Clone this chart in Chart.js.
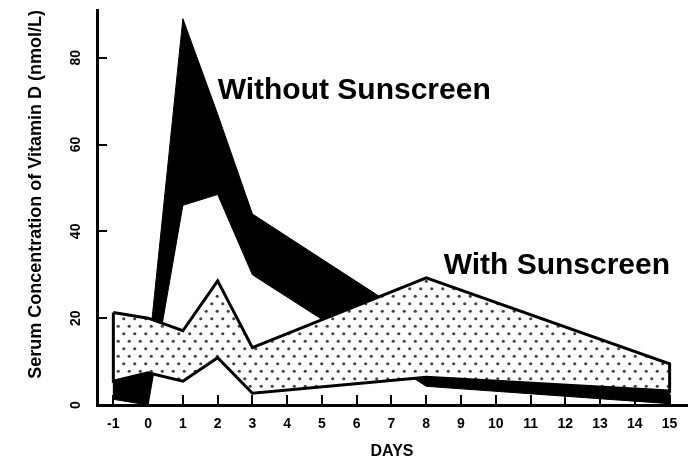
<!DOCTYPE html>
<html>
<head>
<meta charset="utf-8">
<script src="https://cdn.jsdelivr.net/npm/chart.js@4.4.1/dist/chart.umd.min.js"></script>
<style>
  html, body { margin: 0; padding: 0; background: #fff; }
  #wrap { width: 692px; height: 462px; }
</style>
</head>
<body>
<div id="wrap"><canvas id="chart" width="692" height="462"></canvas></div>
<script>
// Days on which the band edges change direction
const days = [-1, 0, 1, 2, 3, 8, 15];
// Tick labels for both axes
const dayTicks = [-1, 0, 1, 2, 3, 4, 5, 6, 7, 8, 9, 10, 11, 12, 13, 14, 15];
const concTicks = [0, 20, 40, 60, 80];
// Serum vitamin D range (nmol/L), upper and lower edge of each band
const withoutUpper = [6, 11, 89, 67, 44, 18, 5];
const withoutLower = [1.3, 0, 46, 48.5, 30, 4.3, 0.3];
const withUpper = [21.3, 20, 17.1, 28.6, 13.2, 29.3, 9.5];
const withLower = [5.5, 7.4, 5.5, 10.9, 2.7, 6.4, 3.2];
const seriesNames = ['Without Sunscreen', 'With Sunscreen'];

// Closed outline: along the upper edge, back along the lower edge
function band(upper, lower) {
  const top = upper.map((v, i) => ({ x: days[i], y: v }));
  const bottom = lower.map((v, i) => ({ x: days[i], y: v })).reverse();
  return [...top, ...bottom, top[0]];
}

function dotPattern() {
  const c = document.createElement('canvas');
  c.width = 11; c.height = 15;
  const g = c.getContext('2d');
  g.fillStyle = '#fff';
  g.fillRect(0, 0, c.width, c.height);
  g.fillStyle = '#444';
  [[2.75, 3.75], [8.25, 11.25]].forEach(([x, y]) => {
    g.beginPath(); g.arc(x, y, 1.6, 0, Math.PI * 2); g.fill();
  });
  return g.createPattern(c, 'repeat');
}

const FONT = '"Liberation Sans", Arial, Helvetica, sans-serif';

// Short inward tick marks on both axes
const innerTicks = {
  id: 'innerTicks',
  beforeDatasetsDraw(chart) {
    const { ctx, chartArea: a, scales: { x, y } } = chart;
    ctx.save();
    ctx.strokeStyle = '#000';
    ctx.lineWidth = 2;
    ctx.beginPath();
    dayTicks.forEach(d => {
      const px = Math.round(x.getPixelForValue(d));
      ctx.moveTo(px, a.bottom); ctx.lineTo(px, a.bottom - 10);
    });
    concTicks.filter(v => v > 0).forEach(v => {
      const py = Math.round(y.getPixelForValue(v));
      ctx.moveTo(a.left, py); ctx.lineTo(a.left + 10, py);
    });
    ctx.stroke();
    ctx.restore();
  }
};

// Rotated value labels on the concentration axis and the band names
const annotations = {
  id: 'annotations',
  afterDraw(chart, args, opts) {
    const { ctx, scales: { x, y } } = chart;
    ctx.save();
    ctx.fillStyle = '#000';
    ctx.font = 'bold 14px ' + FONT;
    ctx.textAlign = 'center';
    ctx.textBaseline = 'middle';
    concTicks.forEach(v => {
      ctx.save();
      ctx.translate(opts.tickLabelX, y.getPixelForValue(v));
      ctx.rotate(-Math.PI / 2);
      ctx.fillText(String(v), 0, 0);
      ctx.restore();
    });
    ctx.font = 'bold 30px ' + FONT;
    ctx.textAlign = 'left';
    ctx.textBaseline = 'alphabetic';
    opts.names.forEach((n, i) => {
      ctx.fillText(seriesNames[i], x.getPixelForValue(n.day), y.getPixelForValue(n.value));
    });
    ctx.restore();
  }
};

new Chart(document.getElementById('chart'), {
  type: 'line',
  data: {
    datasets: [
      {
        label: seriesNames[1],
        data: band(withUpper, withLower),
        borderColor: '#000',
        borderWidth: 3,
        backgroundColor: dotPattern(),
        fill: 'shape',
        pointRadius: 0,
        tension: 0,
        borderJoinStyle: 'miter',
        order: 1
      },
      {
        label: seriesNames[0],
        data: band(withoutUpper, withoutLower),
        borderColor: '#000',
        borderWidth: 1,
        backgroundColor: '#000',
        fill: 'shape',
        pointRadius: 0,
        tension: 0,
        order: 2
      }
    ]
  },
  options: {
    responsive: false,
    animation: false,
    events: [],
    layout: { padding: { left: 0, top: 10, right: 5, bottom: 0 } },
    plugins: {
      legend: { display: false },
      tooltip: { enabled: false },
      annotations: {
        tickLabelX: 76,
        names: [
          { day: 2.0, value: 70.5 },
          { day: 8.5, value: 30.2 }
        ]
      }
    },
    scales: {
      x: {
        type: 'linear',
        min: -1.47,
        max: 15.5,
        afterBuildTicks: s => { s.ticks = dayTicks.map(v => ({ value: v })); },
        afterFit: s => { s.height = 57; },
        grid: { display: false, drawTicks: false },
        border: { display: true, color: '#000', width: 3, z: 1 },
        ticks: {
          color: '#000',
          padding: 11,
          maxRotation: 0,
          autoSkip: false,
          font: { family: FONT, size: 14, weight: 'bold' }
        },
        title: {
          display: true,
          text: 'DAYS',
          color: '#000',
          font: { family: FONT, size: 16, weight: 'bold' },
          padding: { top: 0, bottom: 1 }
        }
      },
      y: {
        min: 0,
        max: 91,
        afterBuildTicks: s => { s.ticks = concTicks.map(v => ({ value: v })); },
        afterFit: s => { s.width = 97; },
        grid: { display: false, drawTicks: false },
        border: { display: true, color: '#000', width: 3 },
        ticks: { display: false },
        title: {
          display: true,
          text: 'Serum Concentration of Vitamin D (nmol/L)',
          align: 'end',
          color: '#000',
          font: { family: FONT, size: 18, weight: 'bold' },
          padding: { top: 25, bottom: 0 }
        }
      }
    }
  },
  plugins: [innerTicks, annotations]
});
</script>
</body>
</html>
